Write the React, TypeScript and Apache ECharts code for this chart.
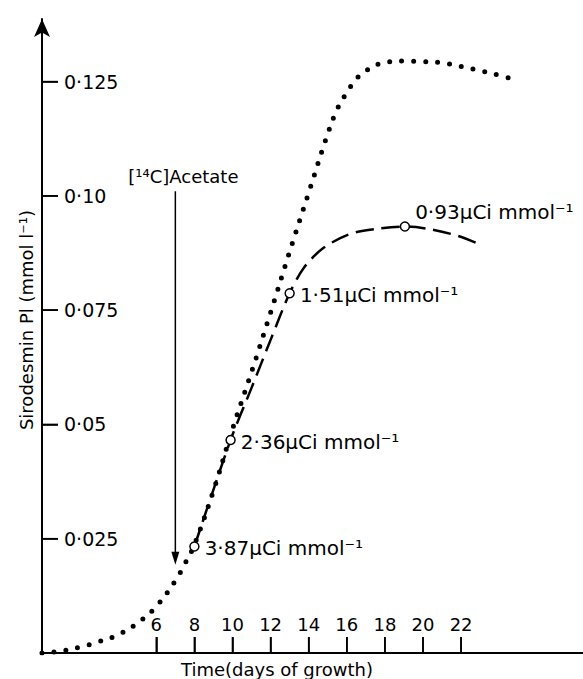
import React, { useEffect, useRef } from 'react';
import * as echarts from 'echarts';

// Total sirodesmin PL (dotted curve)
const dottedDays = [0, 1, 2, 3, 4, 5, 6, 7, 7.5, 8, 9, 10, 11, 12, 13, 14, 15, 15.5, 16, 16.5, 17, 18, 19, 20, 21, 22, 23, 24, 24.6];
const dottedValues = [0, 0.0004, 0.0013, 0.0025, 0.004, 0.0065, 0.0102, 0.0158, 0.0195, 0.0237, 0.0355, 0.049, 0.0615, 0.0745, 0.0878, 0.1007, 0.1136, 0.119, 0.1226, 0.1256, 0.1274, 0.1292, 0.1295, 0.1294, 0.1291, 0.1283, 0.1274, 0.1264, 0.1257];

// Labelled sirodesmin PL (dashed curve)
const dashedDays = [8, 9.9, 11, 12, 13, 13.75, 14.8, 16.2, 17.6, 19.05, 20.25, 21.8, 23.05];
const dashedValues = [0.0233, 0.0466, 0.058, 0.0685, 0.0787, 0.0843, 0.0887, 0.0917, 0.0928, 0.0933, 0.0928, 0.0913, 0.0893];

// Sampling points with specific activity
const sampleDays = [8, 9.9, 13, 19.05];
const sampleValues = [0.0233, 0.0466, 0.0787, 0.0933];
const activityLabels = ['3·87μCi mmol⁻¹', '2·36μCi mmol⁻¹', '1·51μCi mmol⁻¹', '0·93μCi mmol⁻¹'];

// Acetate addition arrow
const acetateDay = 7;
const acetateArrowTop = 0.101;
const acetateArrowBottom = 0.0193;
const acetateLabel = '[¹⁴C]Acetate';

// Axes
const xTickValues = [6, 8, 10, 12, 14, 16, 18, 20, 22];
const yTickValues = [0.025, 0.05, 0.075, 0.1, 0.125];
const yTickLabels = ['0·025', '0·05', '0·075', '0·10', '0·125'];
const xName = 'Time(days of growth)';
const yName = 'Sirodesmin Pl (mmol l⁻¹)';

const FONT = 'DejaVu Sans';
const TICK_LEN = 16;

export default function App() {
  const ref = useRef<HTMLDivElement>(null);
  useEffect(() => {
    if (!ref.current) return;
    const chart = echarts.init(ref.current, undefined, { renderer: 'svg' });
    chart.setOption({
      animation: false,
      backgroundColor: '#fff',
      grid: { left: 42, right: 0, top: 19, bottom: 26, outerBoundsMode: 'none' },
      xAxis: {
        type: 'value',
        min: 0,
        max: 28.4,
        splitLine: { show: false },
        axisLine: { show: true, lineStyle: { color: '#000', width: 2 } },
        axisTick: { show: true, inside: true, length: TICK_LEN, customValues: xTickValues, lineStyle: { color: '#000', width: 1.6 } },
        axisLabel: {
          inside: true,
          margin: 20,
          customValues: xTickValues,
          color: '#000',
          fontFamily: FONT,
          fontSize: 18,
        },
      },
      yAxis: {
        type: 'value',
        min: 0,
        max: 0.1387,
        splitLine: { show: false },
        axisLine: { show: true, symbol: ['none', 'arrow'], symbolSize: [12, 18], lineStyle: { color: '#000', width: 2 } },
        axisTick: { show: true, inside: true, length: TICK_LEN, customValues: yTickValues, lineStyle: { color: '#000', width: 1.6 } },
        axisLabel: {
          inside: true,
          margin: 22,
          customValues: yTickValues,
          color: '#000',
          fontFamily: FONT,
          fontSize: 19,
          formatter: (v: number) => {
            const i = yTickValues.findIndex((t) => Math.abs(t - v) < 1e-9);
            return i >= 0 ? yTickLabels[i] : '';
          },
        },
      },
      series: [
        {
          type: 'line',
          data: dottedDays.map((d, i) => [d, dottedValues[i]]),
          smooth: 0.4,
          symbol: 'none',
          showSymbol: false,
          lineStyle: { color: '#000', width: 5, type: [0, 12], cap: 'round' },
          z: 2,
        },
        {
          type: 'line',
          data: dashedDays.map((d, i) => [d, dashedValues[i]]),
          smooth: 0.3,
          symbol: 'none',
          showSymbol: false,
          lineStyle: { color: '#000', width: 2.5, type: [18, 8] },
          z: 3,
        },
        {
          type: 'scatter',
          data: sampleDays.map((d, i) => ({
            value: [d, sampleValues[i]],
            label: i === 3 ? { offset: [0, -15] } : { offset: [0, 2] },
          })),
          symbol: 'circle',
          symbolSize: 9,
          itemStyle: { color: '#fff', borderColor: '#000', borderWidth: 1.5, opacity: 1 },
          label: {
            show: true,
            position: 'right',
            distance: 5,
            color: '#000',
            fontFamily: FONT,
            fontSize: 20,
            formatter: (p: any) => activityLabels[p.dataIndex],
          },
          z: 4,
        },
      ],
    });

    // Ticks (backup), axis titles and the acetate arrow, positioned through the chart's own scales
    const g: any[] = [];
    xTickValues.forEach((v) => {
      const p = chart.convertToPixel({ gridIndex: 0 }, [v, 0]) as number[];
      g.push({
        type: 'line',
        z: 100,
        shape: { x1: p[0], y1: p[1], x2: p[0], y2: p[1] - TICK_LEN },
        style: { stroke: '#000', lineWidth: 1.6 },
      });
    });
    yTickValues.forEach((v) => {
      const p = chart.convertToPixel({ gridIndex: 0 }, [0, v]) as number[];
      g.push({
        type: 'line',
        z: 100,
        shape: { x1: p[0], y1: p[1], x2: p[0] + TICK_LEN, y2: p[1] },
        style: { stroke: '#000', lineWidth: 1.6 },
      });
    });
    const top = chart.convertToPixel({ gridIndex: 0 }, [acetateDay, acetateArrowTop]) as number[];
    const tip = chart.convertToPixel({ gridIndex: 0 }, [acetateDay, acetateArrowBottom]) as number[];
    g.push({
      type: 'line',
      z: 100,
      shape: { x1: top[0], y1: top[1], x2: tip[0], y2: tip[1] - 10 },
      style: { stroke: '#000', lineWidth: 1.5 },
    });
    g.push({
      type: 'polygon',
      z: 100,
      shape: { points: [[tip[0] - 4, tip[1] - 13], [tip[0] + 4, tip[1] - 13], [tip[0], tip[1]]] },
      style: { fill: '#000' },
    });
    g.push({
      type: 'text',
      z: 100,
      x: top[0] + 8,
      y: top[1] - 15,
      style: { text: acetateLabel, fontFamily: FONT, fontSize: 18, fill: '#000', align: 'center', verticalAlign: 'middle' },
    });
    // Axis titles
    g.push({
      type: 'text',
      z: 100,
      x: 277,
      y: 669,
      style: { text: xName, fontFamily: FONT, fontSize: 18, fill: '#000', align: 'center', verticalAlign: 'middle' },
    });
    g.push({
      type: 'text',
      z: 100,
      x: 26,
      y: 320,
      rotation: Math.PI / 2,
      style: { text: yName, fontFamily: FONT, fontSize: 18, fill: '#000', align: 'center', verticalAlign: 'middle' },
    });
    chart.setOption({ graphic: g });

    return () => chart.dispose();
  }, []);
  return <div ref={ref} style={{ position: 'fixed', left: 0, top: 0, width: 583, height: 679 }} />;
}
